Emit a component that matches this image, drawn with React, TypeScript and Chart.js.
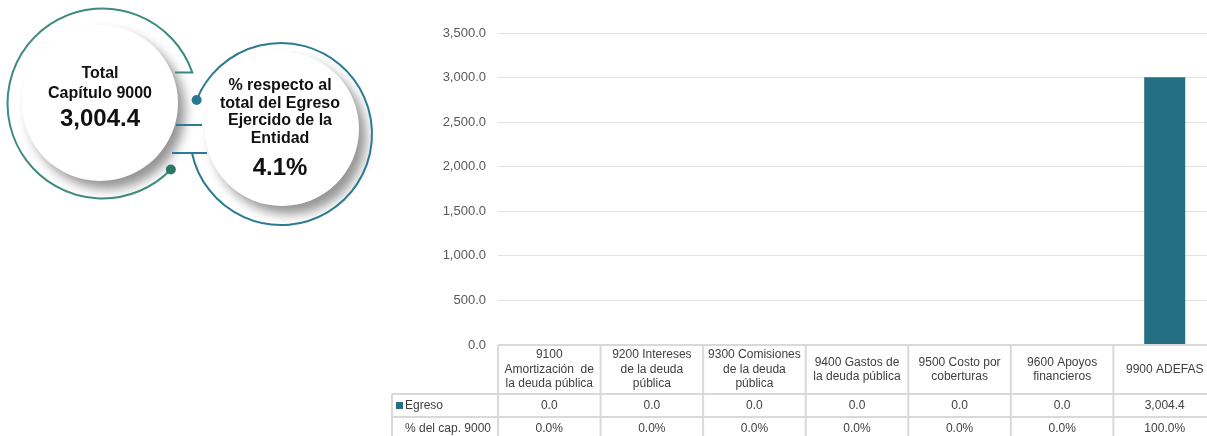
import React, { useEffect, useRef } from "react";
import { Chart, registerables } from "chart.js";

Chart.register(...registerables);

// ---------- data ----------
const categoryLines: string[][] = [
  ["9100", "Amortización  de", "la deuda pública"],
  ["9200 Intereses", "de la deuda", "pública"],
  ["9300 Comisiones", "de la deuda", "pública"],
  ["9400 Gastos de", "la deuda pública"],
  ["9500 Costo por", "coberturas"],
  ["9600 Apoyos", "financieros"],
  ["9900 ADEFAS"],
];
const categories: string[] = categoryLines.map((l) => l.join(" "));
const egreso: number[] = [0.0, 0.0, 0.0, 0.0, 0.0, 0.0, 3004.4];
const pctCapitulo: number[] = [0.0, 0.0, 0.0, 0.0, 0.0, 0.0, 100.0];
const yTickValues: number[] = [0, 500, 1000, 1500, 2000, 2500, 3000, 3500];
const seriesLabel = "Egreso";
const pctRowLabel = "% del cap. 9000";
const totalLabelLines: string[] = ["Total", "Capítulo 9000"];
const totalValue = 3004.4;
const shareLabelLines: string[] = ["% respecto al", "total del Egreso", "Ejercido de la", "Entidad"];
const shareValue = 4.1;

// ---------- helpers ----------
const FONT = "'Liberation Sans', Arial, sans-serif";
const BAR_COLOR = "#246f83";
const fmt = (v: number, d = 1) => {
  const s = Math.abs(v).toFixed(d);
  const [i, f] = s.split(".");
  return (v < 0 ? "-" : "") + i.replace(/\B(?=(\d{3})+(?!\d))/g, ",") + (f ? "." + f : "");
};

const tablePlugin = {
  id: "dataTable",
  afterDraw(chart: any) {
    const ctx: CanvasRenderingContext2D = chart.ctx;
    const area = chart.chartArea;
    const xs = chart.scales.x;
    const n = categories.length;
    const colW = (area.right - area.left) / n;
    const top = area.bottom;
    const r1 = top + 49;
    const r2 = r1 + 23;
    const r3 = r2 + 24;
    const labelLeft = area.left - 106;

    ctx.save();
    ctx.strokeStyle = "#d9d9d9";
    ctx.lineWidth = 2;
    const line = (x1: number, y1: number, x2: number, y2: number) => {
      ctx.beginPath();
      ctx.moveTo(x1, y1);
      ctx.lineTo(x2, y2);
      ctx.stroke();
    };
    line(area.left, top, area.right, top);
    line(labelLeft, r1, area.right, r1);
    line(labelLeft, r2, area.right, r2);
    line(labelLeft, r3, area.right, r3);
    line(labelLeft, r1, labelLeft, r3);
    for (let i = 0; i < n; i++) {
      const c = xs.getPixelForValue(i);
      line(c - colW / 2, top, c - colW / 2, r3);
      if (i === n - 1) line(c + colW / 2, top, c + colW / 2, r3);
    }

    ctx.fillStyle = "#404040";
    ctx.font = `12px ${FONT}`;
    ctx.textAlign = "center";
    ctx.textBaseline = "middle";
    const lh = 14.5;
    for (let i = 0; i < n; i++) {
      const c = xs.getPixelForValue(i);
      const lines = categoryLines[i];
      const mid = (top + r1) / 2;
      const start = mid - ((lines.length - 1) * lh) / 2;
      lines.forEach((t, k) => ctx.fillText(t, c, start + k * lh));
      ctx.fillText(fmt(egreso[i]), c, (r1 + r2) / 2);
      ctx.fillText(fmt(pctCapitulo[i]) + "%", c, (r2 + r3) / 2 - 0.5);
    }
    // row labels
    ctx.fillStyle = BAR_COLOR;
    ctx.fillRect(labelLeft + 4, (r1 + r2) / 2 - 3.5, 7, 7);
    ctx.fillStyle = "#404040";
    ctx.textAlign = "left";
    ctx.fillText(seriesLabel, labelLeft + 13, (r1 + r2) / 2);
    ctx.textAlign = "center";
    ctx.fillText(pctRowLabel, labelLeft + 56, (r2 + r3) / 2 - 0.5);
    ctx.restore();
  },
};

function BarChart() {
  const ref = useRef<HTMLCanvasElement | null>(null);
  useEffect(() => {
    if (!ref.current) return;
    const chart = new Chart(ref.current, {
      type: "bar",
      data: {
        labels: categories,
        datasets: [
          {
            label: seriesLabel,
            data: egreso,
            backgroundColor: BAR_COLOR,
            barPercentage: 0.4,
            categoryPercentage: 1,
          },
        ],
      },
      options: {
        responsive: false,
        animation: false,
        devicePixelRatio: 1,
        layout: { padding: { left: 388, right: 0, top: 33, bottom: 91 } },
        plugins: { legend: { display: false }, tooltip: { enabled: false } },
        scales: {
          x: { display: false },
          y: {
            min: 0,
            max: 3500,
            afterBuildTicks: (s: any) => {
              s.ticks = yTickValues.map((v) => ({ value: v }));
            },
            afterFit: (s: any) => {
              s.width = 110;
            },
            ticks: {
              padding: 12,
              color: "#595959",
              font: { family: FONT, size: 13 },
              callback: (v: any) => fmt(Number(v)),
            },
            grid: { color: "#e3e3e3", drawTicks: false, lineWidth: 1 },
            border: { display: false },
          },
        },
      },
      plugins: [tablePlugin],
    } as any);
    return () => chart.destroy();
  }, []);
  return (
    <canvas
      ref={ref}
      width={1216}
      height={436}
      style={{ position: "absolute", left: 0, top: 0, width: 1216, height: 436 }}
    />
  );
}

function TextLine({ cx, cy, text, size, h }: { cx: number; cy: number; text: string; size: number; h: number }) {
  return (
    <div
      style={{
        position: "absolute",
        left: cx - 100,
        top: cy - h / 2,
        width: 200,
        height: h,
        lineHeight: `${h}px`,
        textAlign: "center",
        fontFamily: FONT,
        fontWeight: 700,
        fontSize: size,
        color: "#111",
        whiteSpace: "nowrap",
      }}
    >
      {text}
    </div>
  );
}

function Decor() {
  const ring1 = { cx: 102.5, cy: 103.5, r: 95 };
  const ring2 = { cx: 281, cy: 134, r: 91 };
  const pt = (c: { cx: number; cy: number; r: number }, a: number) => ({
    x: c.cx + c.r * Math.cos((a * Math.PI) / 180),
    y: c.cy + c.r * Math.sin((a * Math.PI) / 180),
  });
  const s1 = pt(ring1, 44);
  const e1 = pt(ring1, 341);
  const s2 = pt(ring2, 202);
  const e2 = pt(ring2, 168);
  const green = "#3d8b7d";
  const blue = "#2c7a92";
  const white = (cx: number, cy: number, r: number) => (
    <div
      style={{
        position: "absolute",
        left: cx - r,
        top: cy - r,
        width: 2 * r,
        height: 2 * r,
        borderRadius: "50%",
        background: "#fff",
        boxShadow: "7px 8px 11px rgba(0,0,0,0.42)",
      }}
    />
  );
  return (
    <>
      {white(100, 103, 78)}
      {white(282, 129, 77)}
      <svg width={400} height={260} style={{ position: "absolute", left: 0, top: 0 }}>
        <path
          d={`M ${s1.x} ${s1.y} A ${ring1.r} ${ring1.r} 0 1 1 ${e1.x} ${e1.y} L 175 ${e1.y}`}
          fill="none"
          stroke={green}
          strokeWidth={2}
        />
        <circle cx={s1.x} cy={s1.y} r={5} fill="#2e7767" />
        <path
          d={`M ${s2.x} ${s2.y} A ${ring2.r} ${ring2.r} 0 1 1 ${e2.x} ${e2.y}`}
          fill="none"
          stroke={blue}
          strokeWidth={2}
        />
        <line x1={176} y1={125} x2={202} y2={125} stroke={blue} strokeWidth={2} />
        <line x1={172} y1={153} x2={207} y2={153} stroke={blue} strokeWidth={2} />
        <circle cx={s2.x} cy={s2.y} r={5} fill="#2a7590" />
      </svg>
      <TextLine cx={100} cy={72.5} text={totalLabelLines[0]} size={16} h={20} />
      <TextLine cx={100} cy={92.5} text={totalLabelLines[1]} size={16} h={20} />
      <TextLine cx={100} cy={118} text={fmt(totalValue)} size={24} h={30} />
      {shareLabelLines.map((t, i) => (
        <TextLine key={i} cx={280} cy={85 + i * 17.7} text={t} size={16} h={20} />
      ))}
      <TextLine cx={280} cy={167} text={fmt(shareValue) + "%"} size={24} h={30} />
    </>
  );
}

export default function App() {
  return (
    <div
      style={{
        position: "absolute",
        left: 0,
        top: 0,
        width: 1207,
        height: 436,
        overflow: "hidden",
        background: "#fff",
      }}
    >
      <BarChart />
      <Decor />
    </div>
  );
}
